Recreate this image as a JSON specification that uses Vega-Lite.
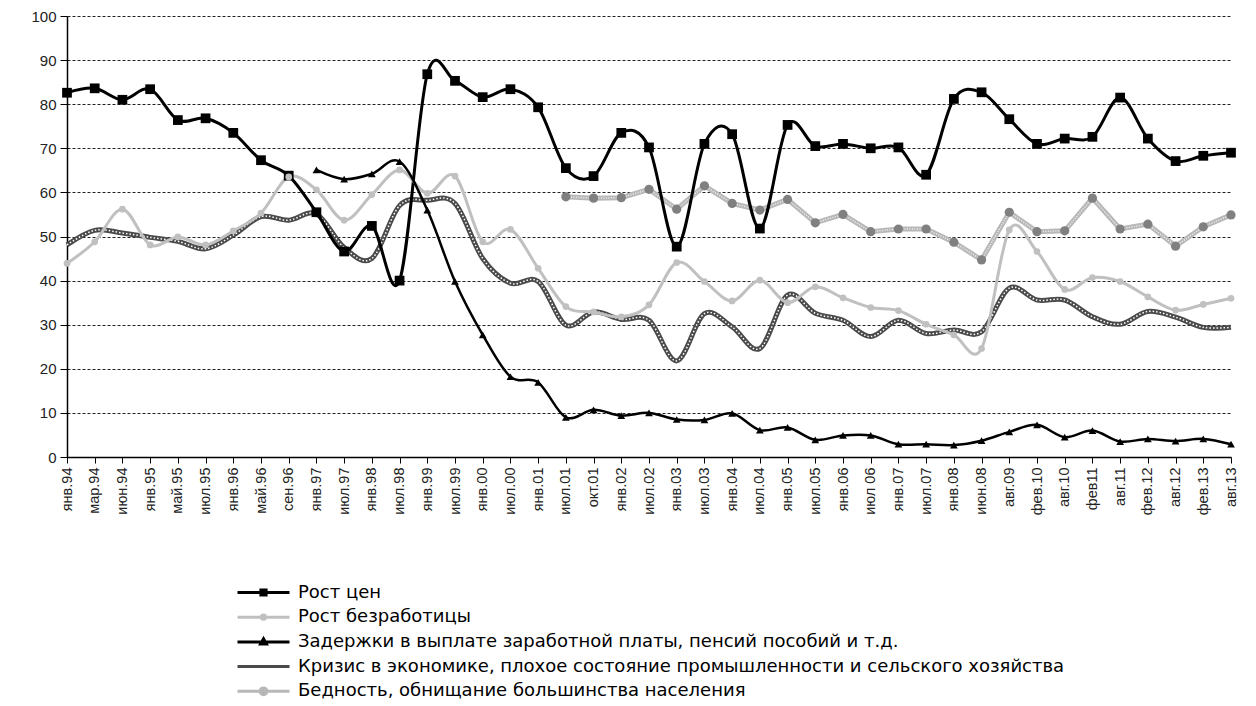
{
  "$schema": "https://vega.github.io/schema/vega-lite/v6.json",
  "width": 1164,
  "height": 441,
  "autosize": {"type": "none"},
  "padding": {"left": 67, "top": 16, "right": 25, "bottom": 249},
  "background": "white",
  "config": {"view": {"stroke": null}, "font": "Liberation Sans"},
  "data": {"values": [
    {"period":"янв.94","series":"Рост цен","value":82.6},
    {"period":"мар.94","series":"Рост цен","value":83.6},
    {"period":"июн.94","series":"Рост цен","value":81.0},
    {"period":"янв.95","series":"Рост цен","value":83.4},
    {"period":"май.95","series":"Рост цен","value":76.4},
    {"period":"июл.95","series":"Рост цен","value":76.8},
    {"period":"янв.96","series":"Рост цен","value":73.5},
    {"period":"май.96","series":"Рост цен","value":67.3},
    {"period":"сен.96","series":"Рост цен","value":63.8},
    {"period":"янв.97","series":"Рост цен","value":55.5},
    {"period":"июл.97","series":"Рост цен","value":46.6},
    {"period":"янв.98","series":"Рост цен","value":52.4},
    {"period":"июл.98","series":"Рост цен","value":40.0},
    {"period":"янв.99","series":"Рост цен","value":86.8},
    {"period":"июл.99","series":"Рост цен","value":85.3},
    {"period":"янв.00","series":"Рост цен","value":81.6},
    {"period":"июл.00","series":"Рост цен","value":83.4},
    {"period":"янв.01","series":"Рост цен","value":79.3},
    {"period":"июл.01","series":"Рост цен","value":65.5},
    {"period":"окт.01","series":"Рост цен","value":63.7},
    {"period":"янв.02","series":"Рост цен","value":73.5},
    {"period":"июл.02","series":"Рост цен","value":70.2},
    {"period":"янв.03","series":"Рост цен","value":47.7},
    {"period":"июл.03","series":"Рост цен","value":71.0},
    {"period":"янв.04","series":"Рост цен","value":73.2},
    {"period":"июл.04","series":"Рост цен","value":51.8},
    {"period":"янв.05","series":"Рост цен","value":75.3},
    {"period":"июл.05","series":"Рост цен","value":70.5},
    {"period":"янв.06","series":"Рост цен","value":71.0},
    {"period":"июл 06","series":"Рост цен","value":70.0},
    {"period":"янв.07","series":"Рост цен","value":70.2},
    {"period":"июл.07","series":"Рост цен","value":64.0},
    {"period":"янв.08","series":"Рост цен","value":81.2},
    {"period":"июн.08","series":"Рост цен","value":82.7},
    {"period":"авг.09","series":"Рост цен","value":76.6},
    {"period":"фев.10","series":"Рост цен","value":71.0},
    {"period":"авг.10","series":"Рост цен","value":72.2},
    {"period":"фев11","series":"Рост цен","value":72.6},
    {"period":"авг.11","series":"Рост цен","value":81.5},
    {"period":"фев.12","series":"Рост цен","value":72.2},
    {"period":"авг.12","series":"Рост цен","value":67.1},
    {"period":"фев.13","series":"Рост цен","value":68.3},
    {"period":"авг.13","series":"Рост цен","value":69.0},

    {"period":"янв.94","series":"Рост безработицы","value":43.9},
    {"period":"мар.94","series":"Рост безработицы","value":48.8},
    {"period":"июн.94","series":"Рост безработицы","value":56.2},
    {"period":"янв.95","series":"Рост безработицы","value":48.1},
    {"period":"май.95","series":"Рост безработицы","value":49.9},
    {"period":"июл.95","series":"Рост безработицы","value":48.1},
    {"period":"янв.96","series":"Рост безработицы","value":51.3},
    {"period":"май.96","series":"Рост безработицы","value":55.3},
    {"period":"сен.96","series":"Рост безработицы","value":63.5},
    {"period":"янв.97","series":"Рост безработицы","value":60.6},
    {"period":"июл.97","series":"Рост безработицы","value":53.7},
    {"period":"янв.98","series":"Рост безработицы","value":59.5},
    {"period":"июл.98","series":"Рост безработицы","value":65.1},
    {"period":"янв.99","series":"Рост безработицы","value":59.8},
    {"period":"июл.99","series":"Рост безработицы","value":63.7},
    {"period":"янв.00","series":"Рост безработицы","value":48.8},
    {"period":"июл.00","series":"Рост безработицы","value":51.6},
    {"period":"янв.01","series":"Рост безработицы","value":42.8},
    {"period":"июл.01","series":"Рост безработицы","value":34.1},
    {"period":"окт.01","series":"Рост безработицы","value":32.9},
    {"period":"янв.02","series":"Рост безработицы","value":31.8},
    {"period":"июл.02","series":"Рост безработицы","value":34.5},
    {"period":"янв.03","series":"Рост безработицы","value":44.1},
    {"period":"июл.03","series":"Рост безработицы","value":39.8},
    {"period":"янв.04","series":"Рост безработицы","value":35.4},
    {"period":"июл.04","series":"Рост безработицы","value":40.1},
    {"period":"янв.05","series":"Рост безработицы","value":35.0},
    {"period":"июл.05","series":"Рост безработицы","value":38.6},
    {"period":"янв.06","series":"Рост безработицы","value":36.1},
    {"period":"июл 06","series":"Рост безработицы","value":33.9},
    {"period":"янв.07","series":"Рост безработицы","value":33.2},
    {"period":"июл.07","series":"Рост безработицы","value":30.1},
    {"period":"янв.08","series":"Рост безработицы","value":27.7},
    {"period":"июн.08","series":"Рост безработицы","value":24.6},
    {"period":"авг.09","series":"Рост безработицы","value":51.5},
    {"period":"фев.10","series":"Рост безработицы","value":46.6},
    {"period":"авг.10","series":"Рост безработицы","value":38.0},
    {"period":"фев11","series":"Рост безработицы","value":40.7},
    {"period":"авг.11","series":"Рост безработицы","value":39.8},
    {"period":"фев.12","series":"Рост безработицы","value":36.3},
    {"period":"авг.12","series":"Рост безработицы","value":33.3},
    {"period":"фев.13","series":"Рост безработицы","value":34.6},
    {"period":"авг.13","series":"Рост безработицы","value":36.0},

    {"period":"янв.97","series":"Задержки в выплате заработной платы, пенсий  пособий и т.д.","value":65.1},
    {"period":"июл.97","series":"Задержки в выплате заработной платы, пенсий  пособий и т.д.","value":63.0},
    {"period":"янв.98","series":"Задержки в выплате заработной платы, пенсий  пособий и т.д.","value":64.2},
    {"period":"июл.98","series":"Задержки в выплате заработной платы, пенсий  пособий и т.д.","value":67.0},
    {"period":"янв.99","series":"Задержки в выплате заработной платы, пенсий  пособий и т.д.","value":56.0},
    {"period":"июл.99","series":"Задержки в выплате заработной платы, пенсий  пособий и т.д.","value":39.8},
    {"period":"янв.00","series":"Задержки в выплате заработной платы, пенсий  пособий и т.д.","value":27.7},
    {"period":"июл.00","series":"Задержки в выплате заработной платы, пенсий  пособий и т.д.","value":18.2},
    {"period":"янв.01","series":"Задержки в выплате заработной платы, пенсий  пособий и т.д.","value":16.9},
    {"period":"июл.01","series":"Задержки в выплате заработной платы, пенсий  пособий и т.д.","value":9.0},
    {"period":"окт.01","series":"Задержки в выплате заработной платы, пенсий  пособий и т.д.","value":10.7},
    {"period":"янв.02","series":"Задержки в выплате заработной платы, пенсий  пособий и т.д.","value":9.4},
    {"period":"июл.02","series":"Задержки в выплате заработной платы, пенсий  пособий и т.д.","value":10.0},
    {"period":"янв.03","series":"Задержки в выплате заработной платы, пенсий  пособий и т.д.","value":8.5},
    {"period":"июл.03","series":"Задержки в выплате заработной платы, пенсий  пособий и т.д.","value":8.4},
    {"period":"янв.04","series":"Задержки в выплате заработной платы, пенсий  пособий и т.д.","value":9.9},
    {"period":"июл.04","series":"Задержки в выплате заработной платы, пенсий  пособий и т.д.","value":6.1},
    {"period":"янв.05","series":"Задержки в выплате заработной платы, пенсий  пособий и т.д.","value":6.7},
    {"period":"июл.05","series":"Задержки в выплате заработной платы, пенсий  пособий и т.д.","value":3.9},
    {"period":"янв.06","series":"Задержки в выплате заработной платы, пенсий  пособий и т.д.","value":4.9},
    {"period":"июл 06","series":"Задержки в выплате заработной платы, пенсий  пособий и т.д.","value":4.9},
    {"period":"янв.07","series":"Задержки в выплате заработной платы, пенсий  пособий и т.д.","value":2.9},
    {"period":"июл.07","series":"Задержки в выплате заработной платы, пенсий  пособий и т.д.","value":2.9},
    {"period":"янв.08","series":"Задержки в выплате заработной платы, пенсий  пособий и т.д.","value":2.7},
    {"period":"июн.08","series":"Задержки в выплате заработной платы, пенсий  пособий и т.д.","value":3.7},
    {"period":"авг.09","series":"Задержки в выплате заработной платы, пенсий  пособий и т.д.","value":5.7},
    {"period":"фев.10","series":"Задержки в выплате заработной платы, пенсий  пособий и т.д.","value":7.3},
    {"period":"авг.10","series":"Задержки в выплате заработной платы, пенсий  пособий и т.д.","value":4.5},
    {"period":"фев11","series":"Задержки в выплате заработной платы, пенсий  пособий и т.д.","value":6.0},
    {"period":"авг.11","series":"Задержки в выплате заработной платы, пенсий  пособий и т.д.","value":3.5},
    {"period":"фев.12","series":"Задержки в выплате заработной платы, пенсий  пособий и т.д.","value":4.1},
    {"period":"авг.12","series":"Задержки в выплате заработной платы, пенсий  пособий и т.д.","value":3.6},
    {"period":"фев.13","series":"Задержки в выплате заработной платы, пенсий  пособий и т.д.","value":4.1},
    {"period":"авг.13","series":"Задержки в выплате заработной платы, пенсий  пособий и т.д.","value":2.9},

    {"period":"янв.94","series":"Кризис в экономике, плохое состояние промышленности и сельского хозяйства","value":48.1},
    {"period":"мар.94","series":"Кризис в экономике, плохое состояние промышленности и сельского хозяйства","value":51.4},
    {"period":"июн.94","series":"Кризис в экономике, плохое состояние промышленности и сельского хозяйства","value":50.8},
    {"period":"янв.95","series":"Кризис в экономике, плохое состояние промышленности и сельского хозяйства","value":49.8},
    {"period":"май.95","series":"Кризис в экономике, плохое состояние промышленности и сельского хозяйства","value":48.9},
    {"period":"июл.95","series":"Кризис в экономике, плохое состояние промышленности и сельского хозяйства","value":47.2},
    {"period":"янв.96","series":"Кризис в экономике, плохое состояние промышленности и сельского хозяйства","value":50.3},
    {"period":"май.96","series":"Кризис в экономике, плохое состояние промышленности и сельского хозяйства","value":54.5},
    {"period":"сен.96","series":"Кризис в экономике, плохое состояние промышленности и сельского хозяйства","value":53.7},
    {"period":"янв.97","series":"Кризис в экономике, плохое состояние промышленности и сельского хозяйства","value":55.1},
    {"period":"июл.97","series":"Кризис в экономике, плохое состояние промышленности и сельского хозяйства","value":47.5},
    {"period":"янв.98","series":"Кризис в экономике, плохое состояние промышленности и сельского хозяйства","value":45.0},
    {"period":"июл.98","series":"Кризис в экономике, плохое состояние промышленности и сельского хозяйства","value":57.0},
    {"period":"янв.99","series":"Кризис в экономике, плохое состояние промышленности и сельского хозяйства","value":58.2},
    {"period":"июл.99","series":"Кризис в экономике, плохое состояние промышленности и сельского хозяйства","value":57.5},
    {"period":"янв.00","series":"Кризис в экономике, плохое состояние промышленности и сельского хозяйства","value":45.0},
    {"period":"июл.00","series":"Кризис в экономике, плохое состояние промышленности и сельского хозяйства","value":39.4},
    {"period":"янв.01","series":"Кризис в экономике, плохое состояние промышленности и сельского хозяйства","value":39.8},
    {"period":"июл.01","series":"Кризис в экономике, плохое состояние промышленности и сельского хозяйства","value":29.9},
    {"period":"окт.01","series":"Кризис в экономике, плохое состояние промышленности и сельского хозяйства","value":32.9},
    {"period":"янв.02","series":"Кризис в экономике, плохое состояние промышленности и сельского хозяйства","value":31.2},
    {"period":"июл.02","series":"Кризис в экономике, плохое состояние промышленности и сельского хозяйства","value":31.0},
    {"period":"янв.03","series":"Кризис в экономике, плохое состояние промышленности и сельского хозяйства","value":21.8},
    {"period":"июл.03","series":"Кризис в экономике, плохое состояние промышленности и сельского хозяйства","value":32.5},
    {"period":"янв.04","series":"Кризис в экономике, плохое состояние промышленности и сельского хозяйства","value":29.5},
    {"period":"июл.04","series":"Кризис в экономике, плохое состояние промышленности и сельского хозяйства","value":24.6},
    {"period":"янв.05","series":"Кризис в экономике, плохое состояние промышленности и сельского хозяйства","value":36.7},
    {"period":"июл.05","series":"Кризис в экономике, плохое состояние промышленности и сельского хозяйства","value":32.6},
    {"period":"янв.06","series":"Кризис в экономике, плохое состояние промышленности и сельского хозяйства","value":31.0},
    {"period":"июл 06","series":"Кризис в экономике, плохое состояние промышленности и сельского хозяйства","value":27.3},
    {"period":"янв.07","series":"Кризис в экономике, плохое состояние промышленности и сельского хозяйства","value":31.0},
    {"period":"июл.07","series":"Кризис в экономике, плохое состояние промышленности и сельского хозяйства","value":28.0},
    {"period":"янв.08","series":"Кризис в экономике, плохое состояние промышленности и сельского хозяйства","value":28.8},
    {"period":"июн.08","series":"Кризис в экономике, плохое состояние промышленности и сельского хозяйства","value":28.4},
    {"period":"авг.09","series":"Кризис в экономике, плохое состояние промышленности и сельского хозяйства","value":38.3},
    {"period":"фев.10","series":"Кризис в экономике, плохое состояние промышленности и сельского хозяйства","value":35.6},
    {"period":"авг.10","series":"Кризис в экономике, плохое состояние промышленности и сельского хозяйства","value":35.6},
    {"period":"фев11","series":"Кризис в экономике, плохое состояние промышленности и сельского хозяйства","value":31.8},
    {"period":"авг.11","series":"Кризис в экономике, плохое состояние промышленности и сельского хозяйства","value":30.1},
    {"period":"фев.12","series":"Кризис в экономике, плохое состояние промышленности и сельского хозяйства","value":33.0},
    {"period":"авг.12","series":"Кризис в экономике, плохое состояние промышленности и сельского хозяйства","value":31.7},
    {"period":"фев.13","series":"Кризис в экономике, плохое состояние промышленности и сельского хозяйства","value":29.4},
    {"period":"авг.13","series":"Кризис в экономике, плохое состояние промышленности и сельского хозяйства","value":29.4},

    {"period":"июл.01","series":"Бедность, обнищание большинства населения","value":59.0},
    {"period":"окт.01","series":"Бедность, обнищание большинства населения","value":58.7},
    {"period":"янв.02","series":"Бедность, обнищание большинства населения","value":58.8},
    {"period":"июл.02","series":"Бедность, обнищание большинства населения","value":60.7},
    {"period":"янв.03","series":"Бедность, обнищание большинства населения","value":56.2},
    {"period":"июл.03","series":"Бедность, обнищание большинства населения","value":61.5},
    {"period":"янв.04","series":"Бедность, обнищание большинства населения","value":57.5},
    {"period":"июл.04","series":"Бедность, обнищание большинства населения","value":56.0},
    {"period":"янв.05","series":"Бедность, обнищание большинства населения","value":58.4},
    {"period":"июл.05","series":"Бедность, обнищание большинства населения","value":53.1},
    {"period":"янв.06","series":"Бедность, обнищание большинства населения","value":55.0},
    {"period":"июл 06","series":"Бедность, обнищание большинства населения","value":51.1},
    {"period":"янв.07","series":"Бедность, обнищание большинства населения","value":51.7},
    {"period":"июл.07","series":"Бедность, обнищание большинства населения","value":51.7},
    {"period":"янв.08","series":"Бедность, обнищание большинства населения","value":48.7},
    {"period":"июн.08","series":"Бедность, обнищание большинства населения","value":44.7},
    {"period":"авг.09","series":"Бедность, обнищание большинства населения","value":55.5},
    {"period":"фев.10","series":"Бедность, обнищание большинства населения","value":51.1},
    {"period":"авг.10","series":"Бедность, обнищание большинства населения","value":51.3},
    {"period":"фев11","series":"Бедность, обнищание большинства населения","value":58.7},
    {"period":"авг.11","series":"Бедность, обнищание большинства населения","value":51.7},
    {"period":"фев.12","series":"Бедность, обнищание большинства населения","value":52.8},
    {"period":"авг.12","series":"Бедность, обнищание большинства населения","value":47.8},
    {"period":"фев.13","series":"Бедность, обнищание большинства населения","value":52.2},
    {"period":"авг.13","series":"Бедность, обнищание большинства населения","value":54.9}
  ]},
  "encoding": {
    "x": {
      "field": "period", "type": "ordinal",
      "scale": {"type": "point", "padding": 0,
        "domain": ["янв.94","мар.94","июн.94","янв.95","май.95","июл.95","янв.96","май.96","сен.96","янв.97","июл.97","янв.98","июл.98","янв.99","июл.99","янв.00","июл.00","янв.01","июл.01","окт.01","янв.02","июл.02","янв.03","июл.03","янв.04","июл.04","янв.05","июл.05","янв.06","июл 06","янв.07","июл.07","янв.08","июн.08","авг.09","фев.10","авг.10","фев11","авг.11","фев.12","авг.12","фев.13","авг.13"]},
      "axis": {"title": null, "labelAngle": -90, "labelFontSize": 14.5, "labelColor": "#222", "labelFont": "Liberation Sans",
               "labelPadding": 4, "tickSize": 6, "tickColor": "#000", "domainColor": "#000", "domainWidth": 1.5, "grid": false, "labelOverlap": false}
    },
    "y": {
      "field": "value", "type": "quantitative",
      "scale": {"domain": [0, 100], "nice": false, "zero": true},
      "axis": {"title": null, "values": [0,10,20,30,40,50,60,70,80,90,100], "labelFontSize": 15, "labelColor": "#222", "labelFont": "Liberation Sans",
               "labelPadding": 4, "tickSize": 7, "tickColor": "#000", "domainColor": "#000", "domainWidth": 1.5,
               "grid": true, "gridDash": [3, 2], "gridColor": "#222", "gridWidth": 1}
    }
  },
  "layer": [
    {
      "transform": [{"filter": "datum.series === 'Бедность, обнищание большинства населения'"}],
      "mark": {"type": "line", "interpolate": "linear", "strokeWidth": 5, "color": "#b8b8b8"},
      "encoding": {}
    },
    {
      "transform": [{"filter": "datum.series === 'Бедность, обнищание большинства населения'"}],
      "mark": {"type": "line", "interpolate": "linear", "strokeWidth": 1.5, "color": "#ffffff", "strokeDash": [1, 1.5], "opacity": 0.8},
      "encoding": {}
    },
    {
      "transform": [{"filter": "datum.series === 'Кризис в экономике, плохое состояние промышленности и сельского хозяйства'"}],
      "mark": {"type": "line", "interpolate": "cardinal", "strokeWidth": 5, "color": "#4a4a4a"},
      "encoding": {}
    },
    {
      "transform": [{"filter": "datum.series === 'Кризис в экономике, плохое состояние промышленности и сельского хозяйства'"}],
      "mark": {"type": "line", "interpolate": "cardinal", "strokeWidth": 1.5, "color": "#ffffff", "strokeDash": [1.5, 2]},
      "encoding": {}
    },
    {
      "transform": [{"filter": "datum.series === 'Рост безработицы' || datum.series === 'Рост цен' || indexof(datum.series,'Задерж') === 0"}],
      "mark": {"type": "line", "interpolate": "cardinal"},
      "encoding": {
        "detail": {"field": "series", "type": "nominal"},
        "color": {"condition": {"test": "datum.series === 'Рост безработицы'", "value": "#c0c0c0"}, "value": "#000000"},
        "strokeWidth": {"condition": {"test": "indexof(datum.series,'Задерж') === 0", "value": 2.5}, "value": 3}
      }
    },
    {
      "transform": [{"filter": "indexof(datum.series,'Кризис') !== 0"}],
      "mark": {"type": "point", "filled": true, "opacity": 1},
      "encoding": {
        "shape": {"condition": [
            {"test": "datum.series === 'Рост цен'", "value": "square"},
            {"test": "indexof(datum.series,'Задерж') === 0", "value": "triangle-up"}
          ], "value": "circle"},
        "fill": {"condition": [
            {"test": "datum.series === 'Рост безработицы'", "value": "#c0c0c0"},
            {"test": "indexof(datum.series,'Бедн') === 0", "value": "#808080"}
          ], "value": "#000000"},
        "size": {"condition": [
            {"test": "datum.series === 'Рост цен'", "value": 95},
            {"test": "datum.series === 'Рост безработицы'", "value": 45},
            {"test": "indexof(datum.series,'Бедн') === 0", "value": 85}
          ], "value": 60}
      }
    },
    {
      "mark": {"type": "point", "filled": true, "opacity": 0, "strokeWidth": 3},
      "encoding": {
        "fill": {"field": "series", "type": "nominal",
          "scale": {"domain": ["Рост цен", "Рост безработицы", "Задержки в выплате заработной платы, пенсий  пособий и т.д.", "Кризис в экономике, плохое состояние промышленности и сельского хозяйства", "Бедность, обнищание большинства населения"],
                    "range": ["#000000", "#c0c0c0", "#000000", "transparent", "#808080"]},
          "legend": {"orient": "none", "legendX": 185, "legendY": 565, "direction": "vertical", "title": null,
            "symbolSize": 400, "symbolStrokeWidth": 3, "symbolOpacity": 1, "labelOffset": 23, "rowPadding": 3.7,
            "labelFont": "DejaVu Sans", "labelFontSize": 18, "labelColor": "#000", "labelLimit": 1000}
        },
        "stroke": {"field": "series", "type": "nominal",
          "scale": {"domain": ["Рост цен", "Рост безработицы", "Задержки в выплате заработной платы, пенсий  пособий и т.д.", "Кризис в экономике, плохое состояние промышленности и сельского хозяйства", "Бедность, обнищание большинства населения"],
                    "range": ["#000000", "#c0c0c0", "#000000", "#4a4a4a", "#b8b8b8"]},
          "legend": {"orient": "none", "legendX": 185, "legendY": 565, "direction": "vertical", "title": null,
            "symbolSize": 400, "symbolStrokeWidth": 3, "symbolOpacity": 1, "labelOffset": 23, "rowPadding": 3.7,
            "labelFont": "DejaVu Sans", "labelFontSize": 18, "labelColor": "#000", "labelLimit": 1000}
        },
        "shape": {"field": "series", "type": "nominal",
          "scale": {"domain": ["Рост цен", "Рост безработицы", "Задержки в выплате заработной платы, пенсий  пособий и т.д.", "Кризис в экономике, плохое состояние промышленности и сельского хозяйства", "Бедность, обнищание большинства населения"],
                    "range": ["M-2.6,0H2.6M-0.26,-0.26H0.26V0.26H-0.26Z", "M-2.6,0H2.6M-0.21,0A0.21,0.21,0,1,0,0.21,0A0.21,0.21,0,1,0,-0.21,0Z", "M-2.6,0H2.6M0,-0.31L0.29,0.21H-0.29Z", "M-2.6,0H2.6", "M-2.6,0H2.6M-0.34,0A0.34,0.34,0,1,0,0.34,0A0.34,0.34,0,1,0,-0.34,0Z"]},
          "legend": {"orient": "none", "legendX": 185, "legendY": 565, "direction": "vertical", "title": null,
            "symbolSize": 400, "symbolStrokeWidth": 3, "symbolOpacity": 1, "labelOffset": 23, "rowPadding": 3.7,
            "labelFont": "DejaVu Sans", "labelFontSize": 18, "labelColor": "#000", "labelLimit": 1000}
        }
      }
    }
  ]
}
